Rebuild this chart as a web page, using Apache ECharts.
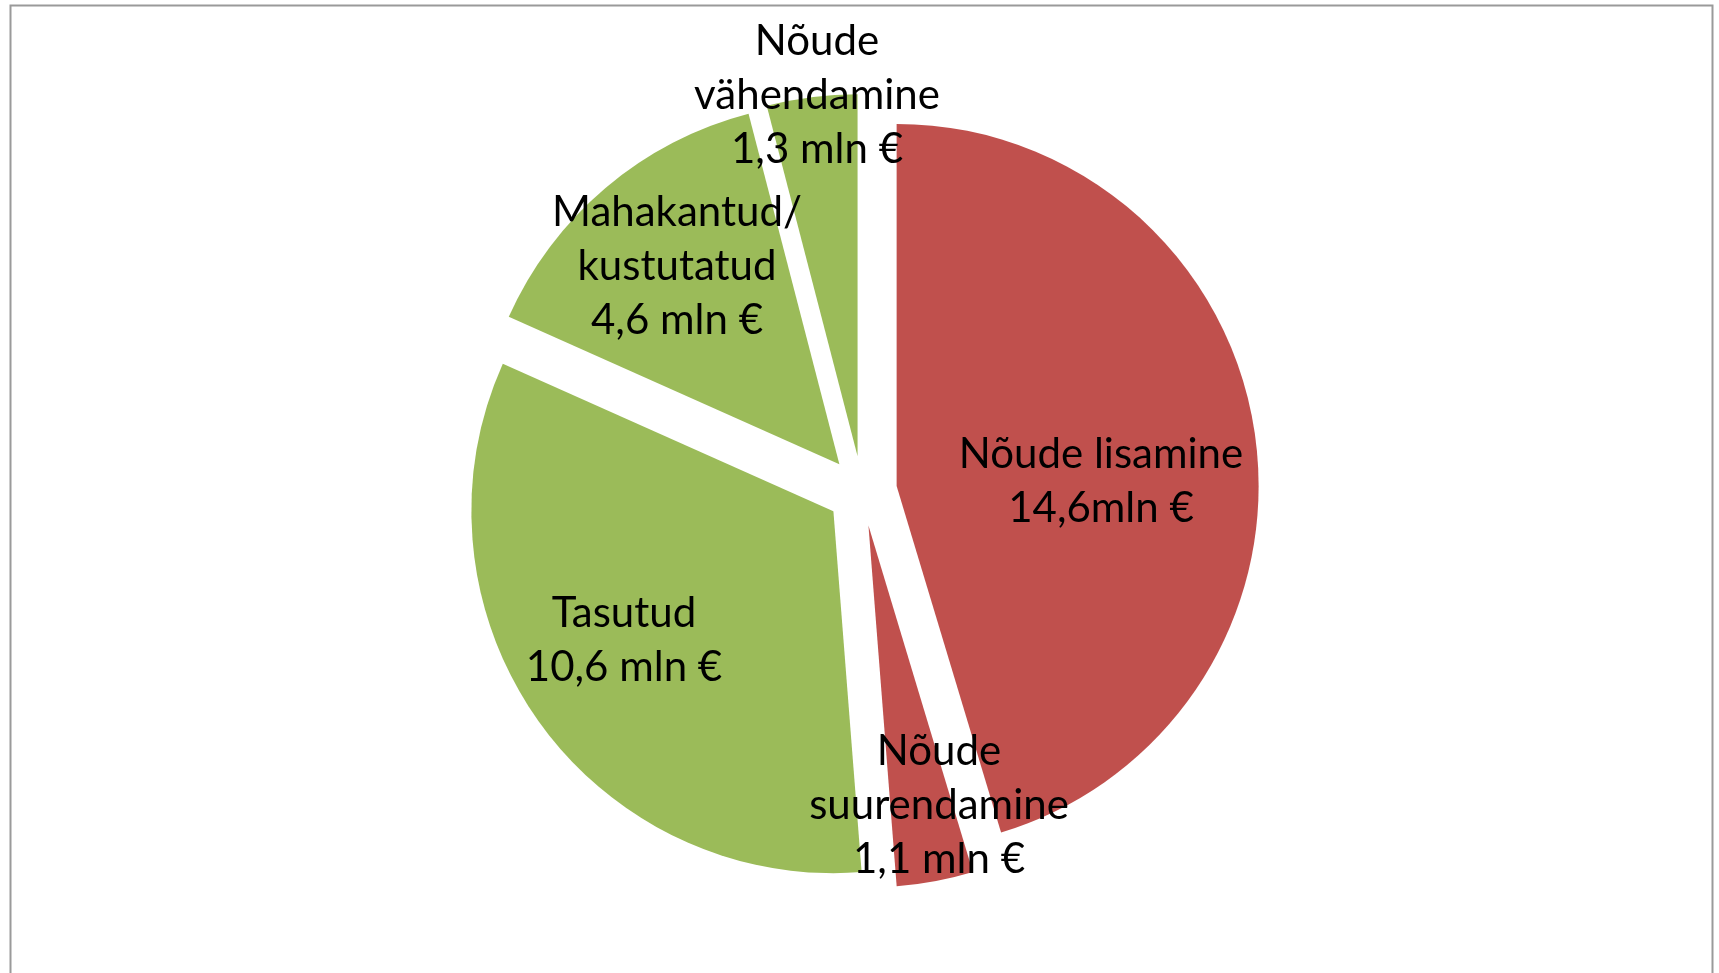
<!DOCTYPE html>
<html>
<head>
<meta charset="utf-8">
<script src="https://cdn.jsdelivr.net/npm/echarts@6/dist/echarts.min.js"></script>
<style>
  html, body { margin: 0; padding: 0; background: #fff; }
  #chart { width: 1719px; height: 973px; }
</style>
</head>
<body>
<div id="chart"></div>
<script>
// slices, clockwise from 12 o'clock
const names = ['Nõude lisamine', 'Nõude suurendamine', 'Tasutud', 'Mahakantud/ kustutatud', 'Nõude vähendamine'];
const values = [14.6, 1.1, 10.6, 4.6, 1.3];
const labelTexts = [
  'Nõude lisamine\n14,6mln €',
  'Nõude\nsuurendamine\n1,1 mln €',
  'Tasutud\n10,6 mln €',
  'Mahakantud/\nkustutatud\n4,6 mln €',
  'Nõude\nvähendamine\n1,3 mln €',
];
const sliceColors = ['#C0504D', '#C0504D', '#9BBB59', '#9BBB59', '#9BBB59'];

// where each label sits (px, centre of the text block)
const labelAt = [[1101, 481], [939, 805], [624, 640], [677, 266], [817, 95]];

const chart = echarts.init(document.getElementById('chart'));

const labelGraphics = labelTexts.map((t, i) => ({
  type: 'text',
  x: labelAt[i][0],
  y: labelAt[i][1],
  z: 100,
  silent: true,
  style: {
    text: t,
    fill: '#000',
    fontFamily: 'Lato, "Open Sans", sans-serif',
    fontSize: 42,
    lineHeight: 54,
    align: 'center',
    verticalAlign: 'middle',
  },
}));

chart.setOption({
  animation: false,
  backgroundColor: '#fff',
  graphic: [{
    type: 'rect',
    shape: { x: 10.5, y: 5.5, width: 1702, height: 1000 },
    style: { fill: 'none', stroke: '#9a9a9a', lineWidth: 2 },
    silent: true,
  }].concat(labelGraphics),
  series: [{
    type: 'pie',
    center: [862, 491],
    radius: 362,
    startAngle: 90,
    clockwise: true,
    selectedMode: 'multiple',
    selectedOffset: 35,
    itemStyle: { borderWidth: 0 },
    emphasis: { disabled: true },
    label: { show: false },
    labelLine: { show: false },
    data: names.map((n, i) => ({
      name: n,
      value: values[i],
      selected: true,
      itemStyle: { color: sliceColors[i] },
    })),
  }],
});
</script>
</body>
</html>
